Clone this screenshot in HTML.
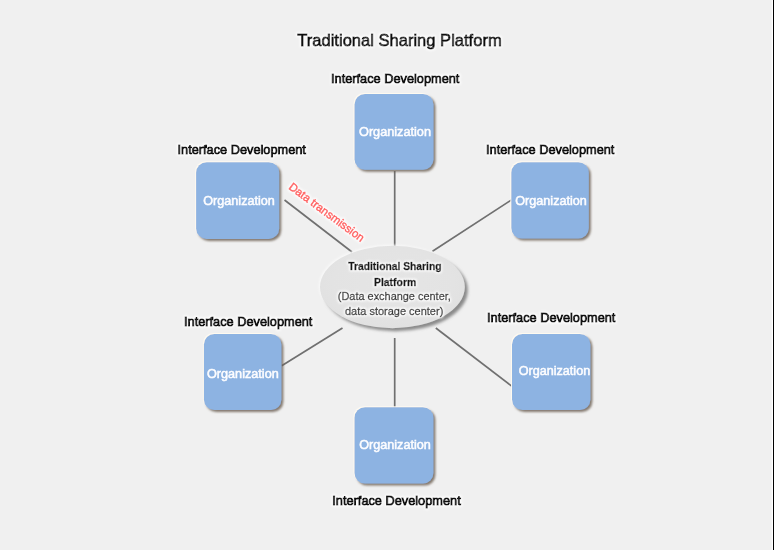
<!DOCTYPE html>
<html>
<head>
<meta charset="utf-8">
<title>Traditional Sharing Platform</title>
<style>
html,body{margin:0;padding:0;background:#f0f0f0;}
body{width:774px;height:550px;overflow:hidden;font-family:"Liberation Sans",sans-serif;}
svg{display:block;}
text{font-family:"Liberation Sans",sans-serif;}
.lbl{font-size:12.6px;fill:#0c0c0c;stroke:#0c0c0c;stroke-width:1px;}
.org{font-size:12px;fill:#fdfdff;stroke:#fdfdff;stroke-width:0.5px;}
.cb{font-size:11px;font-weight:bold;fill:#141414;stroke:#141414;stroke-width:0.55px;}
.cr{font-size:10px;fill:#333;stroke:#333;stroke-width:0.4px;}
</style>
</head>
<body>
<svg width="774" height="550" viewBox="0 0 774 550">
  <defs>
    <filter id="sh" x="-20%" y="-20%" width="150%" height="150%">
      <feGaussianBlur in="SourceAlpha" stdDeviation="1.3" result="b1"/>
      <feOffset in="b1" dx="2.2" dy="2.3" result="o"/>
      <feFlood flood-color="#6a5d50" flood-opacity="0.8"/>
      <feComposite in2="o" operator="in" result="dark"/>
      <feGaussianBlur in="SourceAlpha" stdDeviation="0.7" result="b2"/>
      <feOffset in="b2" dx="-1.3" dy="-1.3" result="o2"/>
      <feFlood flood-color="#fffaf0" flood-opacity="0.95"/>
      <feComposite in2="o2" operator="in" result="light"/>
      <feMerge><feMergeNode in="light"/><feMergeNode in="dark"/><feMergeNode in="SourceGraphic"/></feMerge>
    </filter>
    <radialGradient id="eg" cx="50%" cy="45%" r="60%">
      <stop offset="0" stop-color="#e5e5e5"/>
      <stop offset="0.7" stop-color="#e3e3e3"/>
      <stop offset="1" stop-color="#e0e0e0"/>
    </radialGradient>
    <filter id="sh2" x="-20%" y="-20%" width="150%" height="150%">
      <feGaussianBlur in="SourceAlpha" stdDeviation="1.6" result="b1"/>
      <feOffset in="b1" dx="2.5" dy="2.5" result="o"/>
      <feFlood flood-color="#707070" flood-opacity="0.8"/>
      <feComposite in2="o" operator="in" result="dark"/>
      <feGaussianBlur in="SourceAlpha" stdDeviation="0.8" result="b2"/>
      <feOffset in="b2" dx="-1.2" dy="-1.2" result="o2"/>
      <feFlood flood-color="#fafafa" flood-opacity="0.9"/>
      <feComposite in2="o2" operator="in" result="light"/>
      <feMerge><feMergeNode in="light"/><feMergeNode in="dark"/><feMergeNode in="SourceGraphic"/></feMerge>
    </filter>
    <filter id="blur" x="-5%" y="-5%" width="110%" height="110%">
      <feGaussianBlur in="SourceGraphic" stdDeviation="0.55" result="t"/>
      <feMorphology in="SourceAlpha" operator="dilate" radius="0.9" result="d"/>
      <feGaussianBlur in="d" stdDeviation="0.9" result="db"/>
      <feFlood flood-color="#ffffff" flood-opacity="1"/>
      <feComposite in2="db" operator="in" result="halo"/>
      <feMerge><feMergeNode in="halo"/><feMergeNode in="t"/></feMerge>
    </filter>
    <filter id="blurP" x="-5%" y="-5%" width="110%" height="110%"><feGaussianBlur stdDeviation="0.7"/></filter>
    <filter id="blurL" x="-10%" y="-10%" width="120%" height="120%"><feGaussianBlur stdDeviation="0.55"/></filter>
  </defs>
  <rect x="0" y="0" width="774" height="550" fill="#f0f0f0"/>
  <rect x="771.7" y="0" width="1.3" height="550" fill="#ffffff"/>
  <rect x="773" y="0" width="1" height="550" fill="#000000"/>

  <!-- connector lines -->
  <g stroke="#707070" stroke-width="1.7" fill="none" filter="url(#blurL)">
    <line x1="394.7" y1="171" x2="394.7" y2="246.5"/>
    <line x1="394.7" y1="338" x2="394.7" y2="408"/>
    <line x1="284.5" y1="200" x2="352" y2="252"/>
    <line x1="511.5" y1="199.9" x2="432.5" y2="251.3"/>
    <line x1="281.7" y1="365.8" x2="342.5" y2="328"/>
    <line x1="435.8" y1="328" x2="512.3" y2="386.6"/>
  </g>

  <!-- boxes -->
  <g fill="#8db3e2" filter="url(#sh)">
    <rect x="354.5" y="94" width="79" height="75.8" rx="10.5" ry="10.5"/>
    <rect x="196.1" y="162.2" width="83.1" height="76.7" rx="10.5" ry="10.5"/>
    <rect x="511.3" y="162.2" width="77.5" height="76.4" rx="10.5" ry="10.5"/>
    <rect x="203.9" y="334" width="77.5" height="76" rx="10.5" ry="10.5"/>
    <rect x="512" y="334" width="78.4" height="76" rx="10.5" ry="10.5"/>
    <rect x="354.5" y="407.2" width="78.9" height="76.3" rx="10.5" ry="10.5"/>
  </g>

  <!-- central ellipse -->
  <ellipse cx="392.4" cy="287" rx="72.4" ry="41.2" fill="url(#eg)" filter="url(#sh2)"/>

  <g filter="url(#blurP)">
  <!-- org texts -->
  <text class="org" x="359" y="136" textLength="72" lengthAdjust="spacingAndGlyphs">Organization</text>
  <text class="org" x="203.3" y="204.7" textLength="71.5" lengthAdjust="spacingAndGlyphs">Organization</text>
  <text class="org" x="515.3" y="204.7" textLength="71.5" lengthAdjust="spacingAndGlyphs">Organization</text>
  <text class="org" x="207" y="378" textLength="71.7" lengthAdjust="spacingAndGlyphs">Organization</text>
  <text class="org" x="518.7" y="375" textLength="71.5" lengthAdjust="spacingAndGlyphs">Organization</text>
  <text class="org" x="359.2" y="448.7" textLength="71.6" lengthAdjust="spacingAndGlyphs">Organization</text>

  </g>

  <g filter="url(#blur)">
  <!-- title -->
  <text x="297.3" y="46" font-size="17" fill="#0c0c0c" stroke="#0c0c0c" stroke-width="0.9" textLength="204.4" lengthAdjust="spacingAndGlyphs">Traditional Sharing Platform</text>

  <!-- labels -->
  <text class="lbl" x="331" y="83" textLength="128.4" lengthAdjust="spacingAndGlyphs">Interface Development</text>
  <text class="lbl" x="177.5" y="154.3" textLength="128.4" lengthAdjust="spacingAndGlyphs">Interface Development</text>
  <text class="lbl" x="486" y="154.3" textLength="128.4" lengthAdjust="spacingAndGlyphs">Interface Development</text>
  <text class="lbl" x="184" y="325.7" textLength="128.4" lengthAdjust="spacingAndGlyphs">Interface Development</text>
  <text class="lbl" x="487" y="322" textLength="128.4" lengthAdjust="spacingAndGlyphs">Interface Development</text>
  <text class="lbl" x="332.3" y="505.3" textLength="128.4" lengthAdjust="spacingAndGlyphs">Interface Development</text>

  <!-- center text -->
  <text class="cb" x="348.2" y="270.4" textLength="93.4" lengthAdjust="spacingAndGlyphs">Traditional Sharing</text>
  <text class="cb" x="374" y="285.7" textLength="42.2" lengthAdjust="spacingAndGlyphs">Platform</text>
  <text class="cr" x="337.8" y="300" textLength="113" lengthAdjust="spacingAndGlyphs">(Data exchange center,</text>
  <text class="cr" x="345" y="315.4" textLength="98.3" lengthAdjust="spacingAndGlyphs">data storage center)</text>

  <!-- rotated red label -->
  <text x="0" y="0" font-size="11.5" fill="#ff5c5c" stroke="#ff5c5c" stroke-width="0.55" textLength="90.5" lengthAdjust="spacingAndGlyphs" transform="translate(288,188.5) rotate(36.5)">Data transmission</text>
  </g>
</svg>
</body>
</html>
